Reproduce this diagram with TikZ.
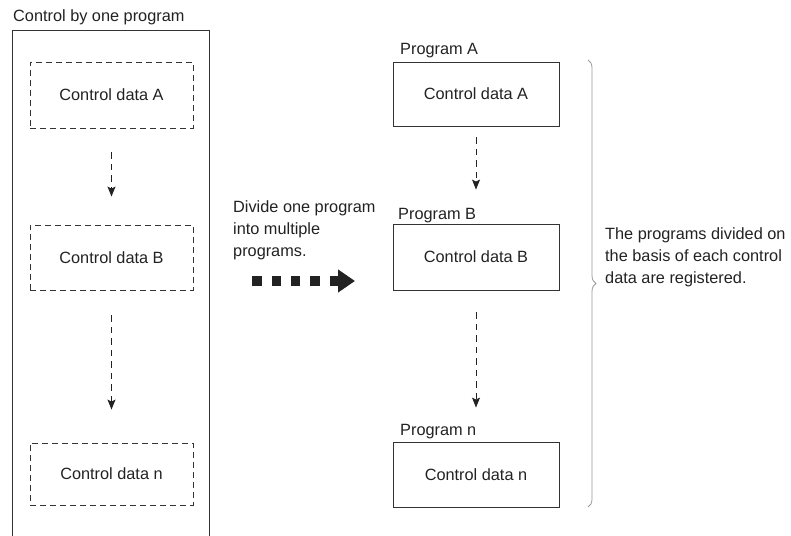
\documentclass[tikz,border=0pt]{standalone}
\usepackage{fontspec}
\setmainfont{Liberation Sans}
\usetikzlibrary{arrows.meta,decorations.pathreplacing}
\definecolor{ink}{HTML}{222222}
\definecolor{edge}{HTML}{333333}
\definecolor{bracec}{HTML}{9A9A9A}
\begin{document}
\begin{tikzpicture}[x=1pt,y=-1pt,
  every node/.style={font=\fontsize{16.3}{22}\selectfont, text=ink},
  dbox/.style={draw=edge, line width=0.9pt, dash pattern=on 6pt off 4pt, minimum width=163pt, inner sep=0pt},
  sbox/.style={draw=edge, line width=0.9pt, minimum width=166pt, inner sep=0pt},
  lbl/.style={anchor=base west, inner sep=0pt},
  para/.style={anchor=north west, inner sep=0pt, align=left},
  dasharrow/.style={draw=ink, line width=0.9pt, dash pattern=on 6.5pt off 5pt, -{Stealth[length=10pt,width=8pt,inset=2pt]}},
  bigarrow/.style={draw=ink, line width=9.5pt, dash pattern=on 9.5pt off 9.8pt, {Triangle[length=17pt,width=22pt]}-}
]
\useasboundingbox (0,0) rectangle (791,535);
% outer frame
\draw[edge, line width=0.9pt] (12.5,540) -- (12.5,30) -- (209.5,30) -- (209.5,540);
\node[lbl] (title) at (13,22) {Control by one program};
% left dashed boxes
\node[dbox, minimum height=66pt] (la) at (111.5,95) {Control data A};
\node[dbox, minimum height=65pt] (lb) at (111.5,257.5) {Control data B};
\node[dbox, minimum height=62pt] (ln) at (111.5,474) {Control data n};
\draw[dasharrow, shorten <=24pt, shorten >=28pt] (la.south) -- (lb.north);
\draw[dasharrow, shorten <=25pt, shorten >=33pt] (lb.south) -- (ln.north);
% middle text and arrow
\node[para] (divide) at (233,200) {Divide one program\\into multiple\\programs.};
\coordinate (bs) at (250,281);
\coordinate (bt) at (355,281);
\draw[bigarrow] (bt) -- (bs);
% right boxes
\node[lbl] (pa) at (400,55) {Program A};
\node[sbox, minimum height=64pt] (ra) at (476,94) {Control data A};
\node[lbl] (pb) at (398,219) {Program B};
\node[sbox, minimum height=66pt] (rb) at (476,257) {Control data B};
\node[lbl] (pn) at (400,435) {Program n};
\node[sbox, minimum height=65pt] (rn) at (476,474.5) {Control data n};
\draw[dasharrow, shorten <=11pt, shorten >=34pt] (ra.south) -- (rb.north);
\draw[dasharrow, shorten <=22pt, shorten >=34pt] (rb.south) -- (rn.north);
% brace
\coordinate (b1) at (588,60);
\coordinate (b2) at (588,507);
\draw[bracec, line width=0.8pt, decorate, decoration={brace, amplitude=8pt}] (b1) -- (b2);
\node[para] (note) at (605,227) {The programs divided on\\the basis of each control\\data are registered.};
\end{tikzpicture}
\end{document}
